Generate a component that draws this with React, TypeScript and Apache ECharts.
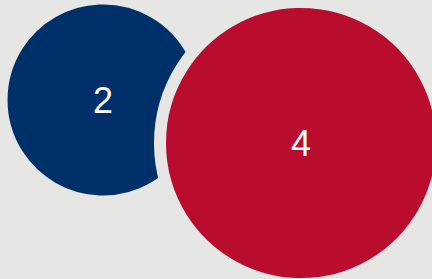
import React, { useEffect, useRef } from "react";
import * as echarts from "echarts";

const names = ["A", "B"];
const values = [2, 4];
const centersX = [103, 301];
const centersY = [100, 143];
const colors = ["#00306a", "#ba0c2f"];

const BG = "#e6e6e4";
const GAP = 12;
const K = 135;

export default function App() {
  const ref = useRef<HTMLDivElement>(null);
  useEffect(() => {
    document.body.style.margin = "0";
    const chart = echarts.init(ref.current!, null, { renderer: "svg" });
    chart.setOption({
      animation: false,
      backgroundColor: BG,
      grid: { left: 0, right: 0, top: 0, bottom: 0 },
      xAxis: { type: "value", min: 0, max: 432, show: false },
      yAxis: { type: "value", min: 0, max: 279, inverse: true, show: false },
      series: [
        {
          type: "scatter",
          data: values.map((v, i) => ({
            name: names[i],
            value: [centersX[i], centersY[i], v],
            itemStyle: { color: colors[i], borderColor: BG, borderWidth: GAP, opacity: 1 },
          })),
          symbol: "circle",
          symbolSize: (d: number[]) => K * Math.sqrt(d[2] / 4) * 2 + GAP,
          label: {
            show: true,
            position: "inside",
            formatter: (p: any) => String(p.value[2]),
            color: "#ffffff",
            fontSize: 36,
            fontFamily: "Liberation Sans, Arial, sans-serif",
          },
          emphasis: { disabled: true },
        },
      ],
    });
    return () => chart.dispose();
  }, []);
  return <div ref={ref} style={{ width: 432, height: 279 }} />;
}
